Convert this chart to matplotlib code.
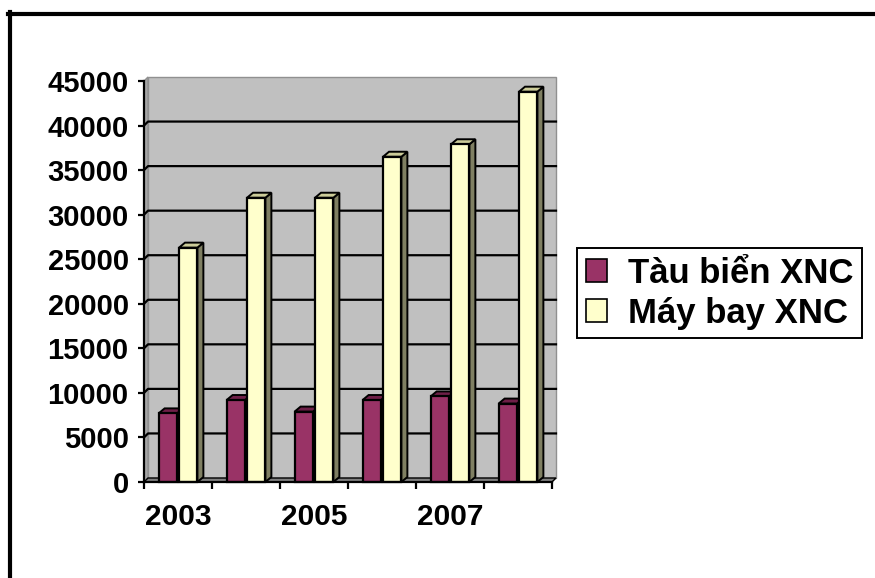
import matplotlib
matplotlib.use("Agg")
import matplotlib.pyplot as plt
from matplotlib.patches import Polygon, Rectangle, Patch
from matplotlib.lines import Line2D

plt.rcParams['font.family'] = ['Liberation Sans', 'DejaVu Sans']
plt.rcParams['font.weight'] = 'bold'

years = ['2003', '2004', '2005', '2006', '2007', '2008']
shown_years = ['2003', '', '2005', '', '2007', '']
tau_bien = [7700, 9200, 7900, 9200, 9600, 8800]
may_bay = [26300, 31900, 31900, 36500, 37900, 43800]
series_names = ['Tàu biển XNC', 'Máy bay XNC']
y_ticks = list(range(0, 45001, 5000))

W, H = 875, 578
fig = plt.figure(figsize=(W / 100, H / 100), dpi=100)
ax = fig.add_axes([144 / W, (H - 482) / H, 408 / W, 401 / H])
n = len(years)
ymax = 45000
ax.set_xlim(0, n)
ax.set_ylim(0, ymax)

# pixel -> data helpers for the fake 3d depth
px_x = n / 408
px_y = ymax / 401
wdx, wdy = 4 * px_x, 4 * px_y      # wall depth
bdx, bdy = 6 * px_x, 5 * px_y      # bar depth

# back wall, side wall, floor
ax.add_patch(Polygon([(wdx, wdy), (n + wdx, wdy), (n + wdx, ymax + wdy), (wdx, ymax + wdy)],
                     closed=True, facecolor='#c0c0c0', edgecolor='#909090', lw=1, clip_on=False, zorder=1))
ax.add_patch(Polygon([(0, 0), (wdx, wdy), (wdx, ymax + wdy), (0, ymax)],
                     closed=True, facecolor='#a6a6a6', edgecolor='#909090', lw=1, clip_on=False, zorder=1))
ax.add_patch(Polygon([(0, 0), (n, 0), (n + wdx, wdy), (wdx, wdy)],
                     closed=True, facecolor='#808080', edgecolor='black', lw=1, clip_on=False, zorder=1))

for v in y_ticks[1:-1]:
    ax.plot([0, wdx, n + wdx], [v, v + wdy, v + wdy], color='black', lw=1.6, zorder=2, clip_on=False)


def bar3d(x0, w, h, front, top, side):
    ax.add_patch(Polygon([(x0 + w, 0), (x0 + w + bdx, bdy), (x0 + w + bdx, h + bdy), (x0 + w, h)],
                         closed=True, facecolor=side, edgecolor='black', lw=1.4, zorder=3, clip_on=False))
    ax.add_patch(Polygon([(x0, h), (x0 + w, h), (x0 + w + bdx, h + bdy), (x0 + bdx, h + bdy)],
                         closed=True, facecolor=top, edgecolor='black', lw=1.4, zorder=3, clip_on=False))
    ax.add_patch(Rectangle((x0, 0), w, h, facecolor=front, edgecolor='black', lw=1.6, zorder=3, clip_on=False))


bw = 0.27
for i in range(n):
    bar3d(i + 0.215, bw, tau_bien[i], '#993366', '#6e1f47', '#4f1733')
    bar3d(i + 0.515, bw, may_bay[i], '#ffffcc', '#cccc99', '#7f7f62')

for s in ['top', 'right']:
    ax.spines[s].set_visible(False)
for s in ['left', 'bottom']:
    ax.spines[s].set_linewidth(1.6)
    ax.spines[s].set_zorder(4)

ax.set_yticks(y_ticks)
ax.set_yticklabels([str(v) for v in y_ticks], fontsize=21, fontweight='bold')
ax.tick_params(axis='y', length=4, width=1.6, pad=7)

ax.set_xticks(range(n + 1))
ax.set_xticklabels([''] * (n + 1))
ax.tick_params(axis='x', which='major', length=5, width=1.6)
ax.set_xticks([i + 0.5 for i in range(n)], minor=True)
ax.set_xticklabels(shown_years, minor=True, fontsize=21.5, fontweight='bold')
ax.tick_params(axis='x', which='minor', length=0, pad=15)

handles = [Patch(facecolor='#993366', edgecolor='black', lw=1.2),
           Patch(facecolor='#ffffcc', edgecolor='black', lw=1.2)]
leg = fig.legend(handles, series_names, loc='upper left', bbox_to_anchor=(577 / W, (H - 248) / H),
                 borderaxespad=0, frameon=True, fancybox=False, framealpha=1, edgecolor='black',
                 prop={'size': 25, 'weight': 'bold'}, handlelength=0.62, handleheight=0.62,
                 handletextpad=0.6, labelspacing=0.2, borderpad=0.25)
leg.get_frame().set_linewidth(1.4)

# outer frame, top and left edges only
fig.add_artist(Line2D([8 / W, 1], [(H - 14) / H] * 2, transform=fig.transFigure, color='black', lw=3))
fig.add_artist(Line2D([10 / W] * 2, [0, (H - 12) / H], transform=fig.transFigure, color='black', lw=3))

fig.savefig('out.png', dpi=100)
